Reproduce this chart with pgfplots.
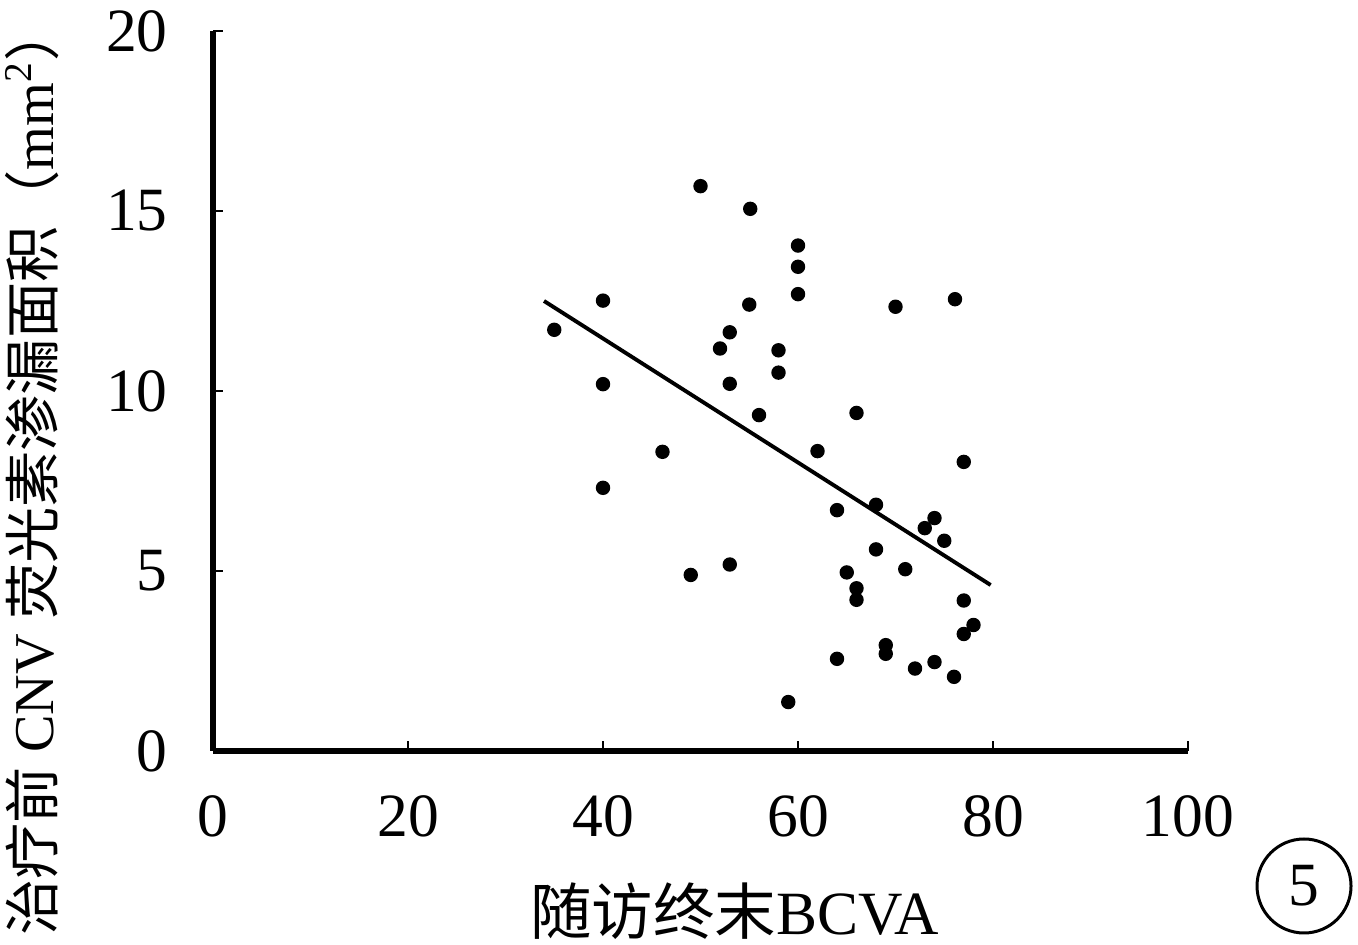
\documentclass[border=0pt]{standalone}
\usepackage{fontspec}
\setmainfont{Liberation Serif}
\newfontfamily\cjk{Noto Sans CJK SC}
\usepackage{pgfplots}
\pgfplotsset{compat=1.18}
\begin{document}
\begin{tikzpicture}
\useasboundingbox (0,0) rectangle (135.8mm,94.5mm);
\begin{axis}[
    at={(21.3mm,19.4mm)}, anchor=south west,
    scale only axis,
    width=97.5mm, height=72mm,
    xmin=0, xmax=100,
    ymin=0, ymax=20,
    axis x line*=bottom,
    axis y line*=left,
    axis line style={line width=1.6pt},
    xtick={0,20,...,100},
    ytick={0,5,...,20},
    tick align=inside,
    major tick length=1mm,
    tick style={line width=0.8pt, black},
    /pgf/number format/assume math mode=true,
    ticklabel style={font=\fontsize{17.5pt}{21pt}\selectfont},
    xticklabel style={yshift=-3.2mm},
    yticklabel style={xshift=-3.3mm},
    xlabel={{\cjk 随访终末}BCVA},
    x label style={at={(axis description cs:0.535,-0.222)}, anchor=center,
        font=\fontsize{17.5pt}{21pt}\selectfont},
    ylabel={{\cjk 治疗前} CNV {\cjk 荧光素渗漏面积（}mm\textsuperscript{2}{\cjk ）}},
    y label style={at={(axis description cs:-0.185,0.39)}, anchor=center, rotate=0,
        font=\fontsize{16pt}{19pt}\selectfont},
    clip=false,
]
% scatter points
\addplot[only marks, mark=*, mark size=0.65mm, black] coordinates {
(50.0,15.69) (55.1,15.06) (60.0,14.04) (60.0,13.45) (60.0,12.69)
(40.0,12.51) (55.0,12.40) (70.0,12.34) (76.1,12.55) (35.0,11.70)
(53.0,11.63) (52.0,11.18) (58.0,11.13) (58.0,10.51) (40.0,10.19)
(53.0,10.20) (56.0,9.33) (66.0,9.39) (46.1,8.31) (62.0,8.33)
(77.0,8.03) (40.0,7.31) (64.0,6.69) (68.0,6.84) (74.0,6.47)
(73.0,6.19) (75.0,5.84) (68.0,5.60) (71.0,5.05) (65.0,4.96)
(49.0,4.89) (53.0,5.18) (66.0,4.52) (66.0,4.20) (77.0,4.18)
(78.0,3.50) (77.0,3.25) (69.0,2.94) (69.0,2.70) (64.0,2.56)
(74.0,2.47) (72.0,2.29) (76.0,2.06) (59.0,1.36)
};
% fitted line
\addplot[black, line width=1.1pt] coordinates {(33.95,12.5) (79.76,4.61)};
\end{axis}
% panel number
\node[draw, circle, line width=0.3mm, minimum size=9.4mm, inner sep=0pt,
      font=\fontsize{17.5pt}{21pt}\selectfont] at (130.4mm,5.9mm) {5};
\end{tikzpicture}
\end{document}
